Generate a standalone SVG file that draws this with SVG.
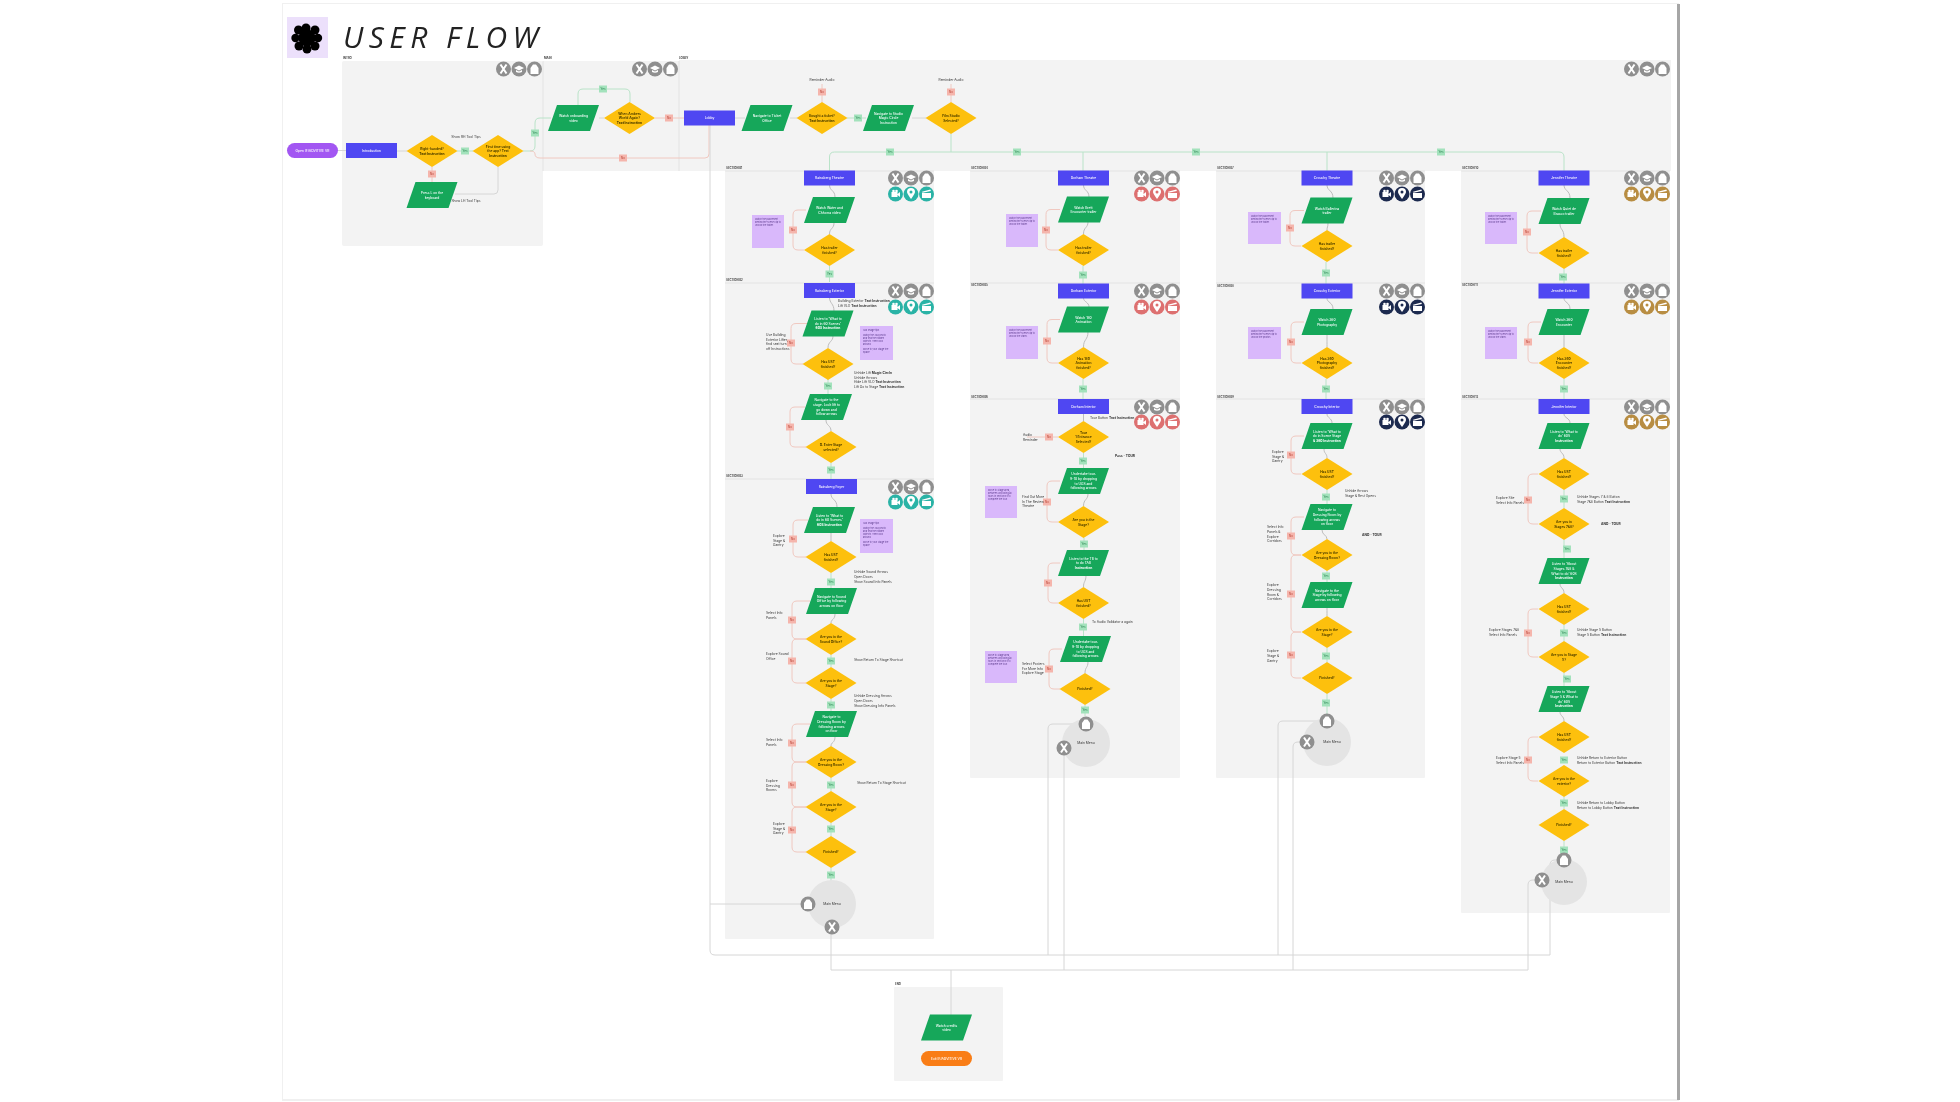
<svg xmlns="http://www.w3.org/2000/svg" width="1960" height="1102" viewBox="0 0 1960 1102">
<style>
text{font-family:Inter,"Noto Sans","Liberation Sans",sans-serif;font-size:3.3px}
.w{fill:#fff;text-anchor:middle;font-weight:500}
.k{fill:#3a2f00;text-anchor:middle;font-weight:600}
.b{font-weight:700}
.t{fill:#333}
.s{fill:#444;font-size:2.8px;font-weight:700}
.m{fill:#333;text-anchor:middle}
.nt{fill:#5b3a8c;font-size:2.3px}
.r{x:-25.5px;y:-7.5px;width:51px;height:15px;fill:#5046f2}
.f{fill:#f3f3f3}
.n{fill:#d9b8fb}
.d{fill:#fdc00c}
.p{fill:#12a75a}
.y{width:8px;height:7px;fill:#a3e2bc}
.o{width:8px;height:7px;fill:#f5b5ac}
.ly{fill:#1c7a45;text-anchor:middle;font-size:2.8px}
.lo{fill:#b3392b;text-anchor:middle;font-size:2.8px}
#connectors path{fill:none;stroke-width:1}
.g{stroke:#d6d6d6}
.gs{stroke:#bdbdbd}
.rd{stroke:#f0c8c0}
.gr{stroke:#b9e3c8}
.c{fill:#e4e4e4}
</style>
<defs>
<filter id="soft" filterUnits="userSpaceOnUse" x="0" y="0" width="1960" height="1102"><feGaussianBlur stdDeviation="0.55"/></filter>
<polygon id="dia" class="d" points="-25.5,0 0,-16 25.5,0 0,16"/>
<polygon id="par" class="p" points="-16.5,-13 25.5,-13 16.5,13 -25.5,13"/>
<g id="ix"><circle r="7.5"/><path d="M-3-4.5L3 4.5M3-4.5L-3 4.5" stroke="#fff" stroke-width="2" fill="none"/></g>
<g id="ic"><circle r="7.5"/><path d="M-5-1L0-3.5L5-1L0 1.5ZM-3 1V3Q0 4.5 3 3V1L0 2.5Z" fill="#fff"/></g>
<g id="ih"><circle r="7.5"/><path d="M-4-1L-1.5-4.500H1.500L4-1V5H-4Z" fill="#fff"/></g>
<g id="iv"><circle r="7.5"/><path d="M-4-2H2V3H-4ZM2 0L4.5-2V3L2 1Z" fill="#fff"/><circle cx="-2" cy="-3" r="1.3" fill="#fff"/><circle cx="1" cy="-3" r="1.3" fill="#fff"/></g>
<g id="ip"><circle r="7.5"/><path d="M0 5Q-4-.5-4-2A4 4 0 0 1 4-2Q4-.5 0 5Z" fill="#fff"/><circle cy="-2" r="1.5" fill="currentColor"/></g>
<g id="ia"><circle r="7.5"/><path d="M-4.5-1H4.5V4H-4.5ZM-4.5-2.2L3.8-4.5L4.4-3L-4-1.2Z" fill="#fff"/></g>
<g id="top"><use href="#ix" x="-15.5"/><use href="#ic"/><use href="#ih" x="15.5"/></g>
<g id="low"><use href="#iv" x="-15.5"/><use href="#ip"/><use href="#ia" x="15.5"/></g>
</defs>
<rect width="1960" height="1102" fill="#fff"/>
<g filter="url(#soft)">
<g id="page">
<rect x="282" y="3" width="1397" height="1098" fill="#f0f0f0"/>
<rect x="1677" y="4" width="3" height="1096" fill="#a6a6a6"/>
<rect x="283" y="4" width="1394" height="1095" fill="#fff"/>
</g>
<g id="title">
<rect x="287" y="17" width="41" height="41" fill="#ece0fb"/>
<g fill="#000"><circle cx="307" cy="38" r="8.500"/><circle cx="306" cy="28" r="4.500"/><circle cx="315" cy="30" r="4.500"/><circle cx="318" cy="38" r="4.200"/><circle cx="315" cy="46" r="4.500"/><circle cx="307" cy="49" r="4.500"/><circle cx="299" cy="46" r="4.500"/><circle cx="295.500" cy="38" r="4.200"/><circle cx="298.500" cy="30" r="4.500"/></g>
<text x="343" y="48" textLength="195" style="font-family:'Open Sans',sans-serif;font-size:30px;font-style:italic;font-weight:400" fill="#222">USER FLOW</text>
</g>
<g id="frames">
<rect class="f" x="342" y="61" width="201" height="185" rx="2"/>
<rect class="f" x="543" y="61" width="136" height="110"/>
<rect class="f" x="679" y="60" width="992" height="111"/>
<rect class="f" x="725" y="171" width="209" height="768" rx="1"/>
<rect class="f" x="970" y="171" width="210" height="607" rx="1"/>
<rect class="f" x="1216" y="171" width="209" height="607" rx="1"/>
<rect class="f" x="1461" y="171" width="209" height="742" rx="1"/>
<rect class="f" x="894" y="987" width="109" height="94" rx="1"/>
<path d="M725 171H934M725 283H934M725 479H934M970 171H1180M970 283H1180M970 399H1180M1216 171H1425M1216 283H1425M1216 399H1425M1461 171H1670M1461 283H1670M1461 399H1670M543 61V171M679 61V171" stroke="#e3e3e3" fill="none"/>
<text class="s" x="343" y="59">INTRO</text>
<text class="s" x="544" y="59">MAIN</text>
<text class="s" x="679" y="59">LOBBY</text>
<text class="s" x="726" y="169">SECTION 01</text><text class="s" x="726" y="281">SECTION 02</text><text class="s" x="726" y="477">SECTION 03</text>
<text class="s" x="971" y="169">SECTION 04</text><text class="s" x="971" y="286">SECTION 05</text><text class="s" x="971" y="398">SECTION 06</text>
<text class="s" x="1217" y="169">SECTION 07</text><text class="s" x="1217" y="287">SECTION 08</text><text class="s" x="1217" y="398">SECTION 09</text>
<text class="s" x="1462" y="169">SECTION 10</text><text class="s" x="1462" y="286">SECTION 11</text><text class="s" x="1462" y="398">SECTION 12</text>
<text class="s" x="895" y="985">END</text>
</g>
<g id="icons">
<g fill="#8f8f8f"><use href="#top" x="519" y="69"/><use href="#top" x="655" y="69"/><use href="#top" x="1647" y="69"/>
<use href="#top" x="911" y="178"/><use href="#top" x="911" y="291"/><use href="#top" x="911" y="487"/>
<use href="#top" x="1157" y="178"/><use href="#top" x="1157" y="291"/><use href="#top" x="1157" y="407"/>
<use href="#top" x="1402" y="178"/><use href="#top" x="1402" y="291"/><use href="#top" x="1402" y="407"/>
<use href="#top" x="1647" y="178"/><use href="#top" x="1647" y="291"/><use href="#top" x="1647" y="407"/></g>
<g fill="#2bb3a6" color="#2bb3a6"><use href="#low" x="911" y="194"/><use href="#low" x="911" y="307"/><use href="#low" x="911" y="502"/></g>
<g fill="#dd6f6f" color="#dd6f6f"><use href="#low" x="1157" y="194"/><use href="#low" x="1157" y="307"/><use href="#low" x="1157" y="422"/></g>
<g fill="#1e2a4f" color="#1e2a4f"><use href="#low" x="1402" y="194"/><use href="#low" x="1402" y="307"/><use href="#low" x="1402" y="422"/></g>
<g fill="#b88d42" color="#b88d42"><use href="#low" x="1647" y="194"/><use href="#low" x="1647" y="307"/><use href="#low" x="1647" y="422"/></g>
</g>
<g id="connectors">
<path class="g" d="M338 150.5H346M397 151H407M455 194H494Q498 194 498 190V167M599 118H604M735 118H745M790 118H797M912 118H926"/>
<path class="gr" d="M457 151H473M523 151H530Q535 151 535 146V123Q535 118 540 118H551M578 105V94Q578 89 583 89H625Q630 89 630 94V102M847 118H866M951 134V152M829.5 171V157Q829.5 152 834.5 152H1559Q1564 152 1564 157V171M1083 152V171M1327 152V171"/>
<path class="rd" d="M432 167V182M530 151Q535 151 535 154Q535 158 540 158H705Q709 158 709 154V125M655 118H684M822 102V84M951 102V84"/>
<path class="g" d="M710 125V950Q710 955 715 955H1550M808 904H710M831 927V970H1528M1528 970V885Q1528 880 1533 880H1542M1550 955V865Q1550 860 1555 860H1564M1086 724H1053Q1048 724 1048 729V955M1064 748V970M1327 721H1283Q1278 721 1278 726V955M1307 742H1298Q1293 742 1293 747V970M951 970V1015"/>
<path class="gs" d="M829.5 185C829.5 191 835 190 835 197M834 223C834 229 829.5 228 829.5 234M829.5 297C829.5 304 834 303 834 311M833 336C833 342 828 341 828 348M826 420C826 426 831 425 831 431M831 494C831 500 837 499 837 507M831 533C831 538 831 538 831 541M835 614C835 620 831 619 831 623M835 737C835 743 831 742 831 746"/>
<path class="gs" d="M1083.5 185C1083.5 191 1089 190 1089 197M1088 222C1088 228 1083.5 227 1083.5 234M1083.5 298C1083.5 302 1089 302 1089 307M1088 332C1088 340 1083.5 339 1083.5 347M1083.5 414V421M1088 494C1088 500 1083.5 499 1083.5 506M1086 575C1086 582 1083.5 581 1083.5 587M1088 662C1088 668 1085 667 1085 673"/>
<path class="gs" d="M1327 185C1327 191 1333 190 1333 198M1328 223C1328 227 1327 227 1327 230M1327 298C1327 303 1333 302 1333 309M1327 335C1327 340 1327 340 1327 347M1327 414C1327 418 1332 418 1332 423M1324 449C1324 454 1327 453 1327 458M1322 530C1322 535 1327 535 1327 539M1327 608C1327 612 1327 612 1327 616"/>
<path class="gs" d="M1564 185C1564 191 1570 190 1570 198M1560 224C1560 230 1564 229 1564 237M1564 298C1564 303 1570 302 1570 309M1564 335V347M1564 414C1564 418 1570 418 1570 423M1560 449C1560 453 1564 453 1564 458M1560 584C1560 588 1564 588 1564 593M1560 712C1560 716 1564 716 1564 721"/>
<path class="gr" d="M829.5 266V282M828 379V394M831 463V479M831 573V588M831 655V667M831 699V711M831 778V791M831 823V836M831 868V885M1083 266V284M1083 379V399M1083.5 453V468M1084 538V550M1083.5 619V636M1085 705V716M1326 262V284M1326 379V399M1327 490V504M1327 571V582M1327 648V662M1327 694V722M1564 269V284M1564 379V399M1564 490V508M1564 540V558M1564 625V641M1564 673V686M1564 797V809M1564 841V860"/>
<path class="rd" d="M806 210H798Q793 210 793 215V245Q793 250 798 250H804M808 323.5H796Q791 323.5 791 328.500V359Q791 364 796 364H803M805 407H795Q790 407 790 412V442Q790 447 795 447H806M808 520H798Q793 520 793 525V552Q793 557 798 557H806M810 601H797Q792 601 792 606V634Q792 639 797 639H806M806 639H797Q792 639 792 644V678Q792 683 797 683H806M810 724H797Q792 724 792 729V757Q792 762 797 762H806M806 762H797Q792 762 792 767V802Q792 807 797 807H806M806 807H797Q792 807 792 812V847Q792 852 797 852H806"/>
<path class="rd" d="M1060 209.500H1051Q1046 209.500 1046 214.500V245Q1046 250 1051 250H1058M1060 319.500H1052Q1047 319.500 1047 324.500V358Q1047 363 1052 363H1058M1058 437H1027M1060 481H1052Q1047 481 1047 486V517Q1047 522 1052 522H1058M1060 563H1053Q1048 563 1048 568V598Q1048 603 1053 603H1058M1062 649H1054Q1049 649 1049 654V684Q1049 689 1054 689H1060"/>
<path class="rd" d="M1304 210.500H1295Q1290 210.500 1290 215.500V241Q1290 246 1295 246H1301M1304 322H1296Q1291 322 1291 327V358Q1291 363 1296 363H1301M1304 436H1296Q1291 436 1291 441V469Q1291 474 1296 474H1301M1304 517H1296Q1291 517 1291 522V550Q1291 555 1296 555H1301M1301 555H1296Q1291 555 1291 560V627Q1291 632 1296 632H1301M1301 632H1296Q1291 632 1291 637V673Q1291 678 1296 678H1301"/>
<path class="rd" d="M1541 211H1532Q1527 211 1527 216V248Q1527 253 1532 253H1538M1541 322H1533Q1528 322 1528 327V358Q1528 363 1533 363H1538M1538 474H1533Q1528 474 1528 479V519Q1528 524 1533 524H1538M1538 609H1533Q1528 609 1528 614V652Q1528 657 1533 657H1538M1538 737H1533Q1528 737 1528 742V776Q1528 781 1533 781H1538"/>
<rect class="y" x="461" y="147.500"/><text class="ly" x="465" y="152">Yes</text>
<rect class="o" x="428" y="170.500"/><text class="lo" x="432" y="175">No</text>
<rect class="y" x="531" y="129.500"/><text class="ly" x="535" y="134">Yes</text>
<rect class="y" x="599" y="85.500"/><text class="ly" x="603" y="90">Yes</text>
<rect class="o" x="665" y="114.500"/><text class="lo" x="669" y="119">No</text>
<rect class="o" x="619" y="154.500"/><text class="lo" x="623" y="159">No</text>
<rect class="o" x="818" y="88.500"/><text class="lo" x="822" y="93">No</text>
<rect class="y" x="854" y="114.500"/><text class="ly" x="858" y="119">Yes</text>
<rect class="o" x="947" y="88.500"/><text class="lo" x="951" y="93">No</text>
<rect class="y" x="886" y="148.500"/><text class="ly" x="890" y="153">Yes</text>
<rect class="y" x="1013" y="148.500"/><text class="ly" x="1017" y="153">Yes</text>
<rect class="y" x="1192" y="148.500"/><text class="ly" x="1196" y="153">Yes</text>
<rect class="y" x="1437" y="148.500"/><text class="ly" x="1441" y="153">Yes</text>
<rect class="o" x="789" y="226.500"/><text class="lo" x="793" y="231">No</text>
<rect class="y" x="825.500" y="270.500"/><text class="ly" x="829.500" y="275">Yes</text>
<rect class="o" x="787" y="339.500"/><text class="lo" x="791" y="344">No</text>
<rect class="y" x="824" y="382.500"/><text class="ly" x="828" y="387">Yes</text>
<rect class="o" x="786" y="423.500"/><text class="lo" x="790" y="428">No</text>
<rect class="y" x="827" y="466.500"/><text class="ly" x="831" y="471">Yes</text>
<rect class="o" x="789" y="535.500"/><text class="lo" x="793" y="540">No</text>
<rect class="y" x="827" y="578.500"/><text class="ly" x="831" y="583">Yes</text>
<rect class="o" x="788" y="616.500"/><text class="lo" x="792" y="621">No</text>
<rect class="o" x="788" y="657.500"/><text class="lo" x="792" y="662">No</text>
<rect class="y" x="827" y="657.500"/><text class="ly" x="831" y="662">Yes</text>
<rect class="y" x="827" y="701.500"/><text class="ly" x="831" y="706">Yes</text>
<rect class="o" x="788" y="739.500"/><text class="lo" x="792" y="744">No</text>
<rect class="o" x="788" y="781.500"/><text class="lo" x="792" y="786">No</text>
<rect class="y" x="827" y="781.500"/><text class="ly" x="831" y="786">Yes</text>
<rect class="y" x="827" y="825.500"/><text class="ly" x="831" y="830">Yes</text>
<rect class="o" x="788" y="826.500"/><text class="lo" x="792" y="831">No</text>
<rect class="y" x="827" y="871.500"/><text class="ly" x="831" y="876">Yes</text>
<rect class="o" x="1042" y="226.500"/><text class="lo" x="1046" y="231">No</text>
<rect class="y" x="1079" y="271.500"/><text class="ly" x="1083" y="276">Yes</text>
<rect class="o" x="1043" y="337.500"/><text class="lo" x="1047" y="342">No</text>
<rect class="y" x="1079" y="385.500"/><text class="ly" x="1083" y="390">Yes</text>
<rect class="o" x="1045" y="433.500"/><text class="lo" x="1049" y="438">No</text>
<rect class="y" x="1079" y="457.500"/><text class="ly" x="1083" y="462">Yes</text>
<rect class="o" x="1043" y="498.500"/><text class="lo" x="1047" y="503">No</text>
<rect class="y" x="1080" y="540.500"/><text class="ly" x="1084" y="545">Yes</text>
<rect class="o" x="1044" y="579.500"/><text class="lo" x="1048" y="584">No</text>
<rect class="y" x="1079" y="623.500"/><text class="ly" x="1083" y="628">Yes</text>
<rect class="o" x="1045" y="665.500"/><text class="lo" x="1049" y="670">No</text>
<rect class="y" x="1081" y="706.500"/><text class="ly" x="1085" y="711">Yes</text>
<rect class="o" x="1286" y="224.500"/><text class="lo" x="1290" y="229">No</text>
<rect class="y" x="1322" y="269.500"/><text class="ly" x="1326" y="274">Yes</text>
<rect class="o" x="1287" y="338.500"/><text class="lo" x="1291" y="343">No</text>
<rect class="y" x="1322" y="385.500"/><text class="ly" x="1326" y="390">Yes</text>
<rect class="o" x="1287" y="451.500"/><text class="lo" x="1291" y="456">No</text>
<rect class="y" x="1322" y="493.500"/><text class="ly" x="1326" y="498">Yes</text>
<rect class="o" x="1287" y="532.500"/><text class="lo" x="1291" y="537">No</text>
<rect class="y" x="1322" y="572.500"/><text class="ly" x="1326" y="577">Yes</text>
<rect class="o" x="1287" y="590.500"/><text class="lo" x="1291" y="595">No</text>
<rect class="y" x="1322" y="652.500"/><text class="ly" x="1326" y="657">Yes</text>
<rect class="o" x="1287" y="651.500"/><text class="lo" x="1291" y="656">No</text>
<rect class="y" x="1322" y="699.500"/><text class="ly" x="1326" y="704">Yes</text>
<rect class="o" x="1523" y="228.500"/><text class="lo" x="1527" y="233">No</text>
<rect class="y" x="1559" y="273.500"/><text class="ly" x="1563" y="278">Yes</text>
<rect class="o" x="1524" y="338.500"/><text class="lo" x="1528" y="343">No</text>
<rect class="y" x="1560" y="385.500"/><text class="ly" x="1564" y="390">Yes</text>
<rect class="y" x="1560" y="495.500"/><text class="ly" x="1564" y="500">Yes</text>
<rect class="o" x="1524" y="496.500"/><text class="lo" x="1528" y="501">No</text>
<rect class="y" x="1563" y="545.500"/><text class="ly" x="1567" y="550">Yes</text>
<rect class="o" x="1524" y="629.500"/><text class="lo" x="1528" y="634">No</text>
<rect class="y" x="1560" y="629.500"/><text class="ly" x="1564" y="634">Yes</text>
<rect class="y" x="1563" y="675.500"/><text class="ly" x="1567" y="680">Yes</text>
<rect class="o" x="1524" y="756.500"/><text class="lo" x="1528" y="761">No</text>
<rect class="y" x="1560" y="756.500"/><text class="ly" x="1564" y="761">Yes</text>
<rect class="y" x="1560" y="799.500"/><text class="ly" x="1564" y="804">Yes</text>
<rect class="y" x="1560" y="846.500"/><text class="ly" x="1564" y="851">Yes</text>
</g>
<g id="n-open"><rect x="287" y="143" width="51" height="15" rx="7.5" fill="#a257f2"/><text class="w" x="312.500" y="151.700">Open IF/ADVITIVE VR</text></g>
<g id="n-intro" transform="translate(371.500 150.500)"><rect class="r"/><text class="w" y="1.200">Introduction</text></g>
<g id="n-hand" transform="translate(432 151)"><use href="#dia"/><text class="k" y="-1"><tspan x="0">Right-handed?</tspan><tspan x="0" dy="4.700" class="b">Text Instruction</tspan></text></g>
<g id="n-first" transform="translate(498 151)"><use href="#dia"/><text class="k" y="-3.500"><tspan x="0">First time using</tspan><tspan x="0" dy="4.700">the app? Text</tspan><tspan x="0" dy="4.700" class="b">Instruction</tspan></text></g>
<g id="n-press" transform="translate(432 195)"><use href="#par"/><text class="w" y="-1"><tspan x="0">Press L on the</tspan><tspan x="0" dy="4.700">keyboard</tspan></text></g>
<text class="m" x="466" y="138">Show RH Tool Tips</text><text class="m" x="466" y="201.500">Show LH Tool Tips</text>
<g id="n-onb" transform="translate(573.500 118)"><use href="#par"/><text class="w" y="-1"><tspan x="0">Watch onboarding</tspan><tspan x="0" dy="4.700">video</tspan></text></g>
<g id="n-when" transform="translate(629.500 118)"><use href="#dia"/><text class="k" y="-3.500"><tspan x="0">When Ambers</tspan><tspan x="0" dy="4.700">World Again?</tspan><tspan x="0" dy="4.700" class="b">Text Instruction</tspan></text></g>
<g id="n-lobby" transform="translate(709.500 118)"><rect class="r"/><text class="w" y="1.200">Lobby</text></g>
<g id="n-ticket" transform="translate(767 118)"><use href="#par"/><text class="w" y="-1"><tspan x="0">Navigate to Ticket</tspan><tspan x="0" dy="4.700">Office</tspan></text></g>
<g id="n-bought" transform="translate(822 118)"><use href="#dia"/><text class="k" y="-1"><tspan x="0">Bought a ticket?</tspan><tspan x="0" dy="4.700" class="b">Text Instruction</tspan></text></g>
<g id="n-nav" transform="translate(888.500 118)"><use href="#par"/><text class="w" y="-3.500"><tspan x="0">Navigate to Studio</tspan><tspan x="0" dy="4.700">Magic Circle</tspan><tspan x="0" dy="4.700">Instruction</tspan></text></g>
<g id="n-film" transform="translate(951 118)"><use href="#dia"/><text class="k" y="-1"><tspan x="0">Film Studio</tspan><tspan x="0" dy="4.700">Selected?</tspan></text></g>
<text class="m" x="822" y="81">Reminder Audio</text><text class="m" x="951" y="81">Reminder Audio</text>

<g id="a1" transform="translate(829.500 178)"><rect class="r"/><text class="w" y="1.200">Rainsberg Theatre</text></g>
<g id="a2" transform="translate(829.500 210)"><use href="#par"/><text class="w" y="-1"><tspan x="0">Watch Water and</tspan><tspan x="0" dy="4.700">Chhorra video</tspan></text></g>
<g id="a3" transform="translate(829.500 250)"><use href="#dia"/><text class="k" y="-1"><tspan x="0">Has trailer</tspan><tspan x="0" dy="4.700">finished?</tspan></text></g>
<g id="a-n1"><rect class="n" x="752" y="215" width="32" height="33"/><text class="nt" x="755" y="220"><tspan x="755">Watch the placement</tspan><tspan x="755" dy="3">behind the scene clip to</tspan><tspan x="755" dy="3">unlock the trailer.</tspan></text></g>
<g id="a4" transform="translate(829.500 290.500)"><rect class="r"/><text class="w" y="1.200">Rainsberg Exterior</text></g>
<text class="t" x="838" y="302">Building Exterior <tspan class="b">Text Instruction</tspan><tspan x="838" dy="4.700">Lift VLO </tspan><tspan class="b">Text Instruction</tspan></text>
<g id="a5" transform="translate(828 323.500)"><use href="#par"/><text class="w" y="-3.500"><tspan x="0">Listen to 'What to</tspan><tspan x="0" dy="4.700">do in 60 Scenes'</tspan><tspan x="0" dy="4.700" class="b">60S Instruction</tspan></text></g>
<g id="a6" transform="translate(828 364)"><use href="#dia"/><text class="k" y="-1"><tspan x="0">Has UST</tspan><tspan x="0" dy="4.700">finished?</tspan></text></g>
<text class="t" x="766" y="336"><tspan x="766">Use Building</tspan><tspan x="766" dy="4.700">Exterior Lifter,</tspan><tspan x="766" dy="4.700">find seat turn</tspan><tspan x="766" dy="4.700">off Instructions</tspan></text>
<g id="a-n2"><rect class="n" x="860" y="326" width="33" height="34"/><text class="nt" x="863" y="330.500"><tspan x="863">360 Image tips</tspan><tspan x="863" dy="5">Watch the 360 photo</tspan><tspan x="863" dy="3">and find the hidden</tspan><tspan x="863" dy="3">objects. Then look</tspan><tspan x="863" dy="3">around.</tspan><tspan x="863" dy="5">Move to your Stage the</tspan><tspan x="863" dy="3">space.</tspan></text></g>
<text class="t" x="854" y="374"><tspan x="854">Unhide Lift </tspan><tspan class="b">Magic Circle</tspan><tspan x="854" dy="4.700">Unhide Arrows</tspan><tspan x="854" dy="4.700">Hide Lift VLO </tspan><tspan class="b">Text Instruction</tspan><tspan x="854" dy="4.700">Lift Go to Stage </tspan><tspan class="b">Text Instruction</tspan></text>
<g id="a7" transform="translate(826.500 407)"><use href="#par"/><text class="w" y="-5.800"><tspan x="0">Navigate to the</tspan><tspan x="0" dy="4.700">stage. Lock lift to</tspan><tspan x="0" dy="4.700">go down and</tspan><tspan x="0" dy="4.700">follow arrows</tspan></text></g>
<g id="a8" transform="translate(831 447)"><use href="#dia"/><text class="k" y="-1"><tspan x="0">D. Enter Stage</tspan><tspan x="0" dy="4.700">selected?</tspan></text></g>
<g id="a9" transform="translate(831.500 486.500)"><rect class="r"/><text class="w" y="1.200">Rainsberg Foyer</text></g>
<g id="a10" transform="translate(829.500 520)"><use href="#par"/><text class="w" y="-3.500"><tspan x="0">Listen to 'What to</tspan><tspan x="0" dy="4.700">do in 60 Scenes'</tspan><tspan x="0" dy="4.700" class="b">60S Instruction</tspan></text></g>
<g id="a11" transform="translate(831 557)"><use href="#dia"/><text class="k" y="-1"><tspan x="0">Has UST</tspan><tspan x="0" dy="4.700">finished?</tspan></text></g>
<text class="t" x="773" y="537"><tspan x="773">Explore</tspan><tspan x="773" dy="4.700">Stage &amp;</tspan><tspan x="773" dy="4.700">Gantry</tspan></text>
<g id="a-n3"><rect class="n" x="860" y="519" width="33" height="34"/><text class="nt" x="863" y="523.500"><tspan x="863">360 Image tips</tspan><tspan x="863" dy="5">Watch the 360 photo</tspan><tspan x="863" dy="3">and find the hidden</tspan><tspan x="863" dy="3">objects. Then look</tspan><tspan x="863" dy="3">around.</tspan><tspan x="863" dy="5">Move to your Stage the</tspan><tspan x="863" dy="3">space.</tspan></text></g>
<text class="t" x="854" y="573"><tspan x="854">Unhide Sound Arrows</tspan><tspan x="854" dy="4.800">Open Doors</tspan><tspan x="854" dy="4.800">Show Sound Info Panels</tspan></text>
<g id="a12" transform="translate(831.500 601)"><use href="#par"/><text class="w" y="-3.500"><tspan x="0">Navigate to Sound</tspan><tspan x="0" dy="4.700">Office by following</tspan><tspan x="0" dy="4.700">arrows on floor</tspan></text></g>
<g id="a13" transform="translate(831 639)"><use href="#dia"/><text class="k" y="-1"><tspan x="0">Are you in the</tspan><tspan x="0" dy="4.700">Sound Office?</tspan></text></g>
<text class="t" x="766" y="614"><tspan x="766">Select Info</tspan><tspan x="766" dy="4.700">Panels</tspan></text>
<text class="t" x="766" y="655"><tspan x="766">Explore Sound</tspan><tspan x="766" dy="4.700">Office</tspan></text>
<text class="t" x="854" y="661">Show Return To Stage Shortcut</text>
<g id="a14" transform="translate(831 683)"><use href="#dia"/><text class="k" y="-1"><tspan x="0">Are you in the</tspan><tspan x="0" dy="4.700">Stage?</tspan></text></g>
<text class="t" x="854" y="697"><tspan x="854">Unhide Dressing Arrows</tspan><tspan x="854" dy="4.800">Open Doors</tspan><tspan x="854" dy="4.800">Show Dressing Info Panels</tspan></text>
<g id="a15" transform="translate(831.500 724)"><use href="#par"/><text class="w" y="-5.800"><tspan x="0">Navigate to</tspan><tspan x="0" dy="4.700">Dressing Room by</tspan><tspan x="0" dy="4.700">following arrows</tspan><tspan x="0" dy="4.700">on floor</tspan></text></g>
<g id="a16" transform="translate(831 762)"><use href="#dia"/><text class="k" y="-1"><tspan x="0">Are you in the</tspan><tspan x="0" dy="4.700">Dressing Room?</tspan></text></g>
<text class="t" x="766" y="741"><tspan x="766">Select Info</tspan><tspan x="766" dy="4.700">Panels</tspan></text>
<text class="t" x="766" y="782"><tspan x="766">Explore</tspan><tspan x="766" dy="4.700">Dressing</tspan><tspan x="766" dy="4.700">Rooms</tspan></text>
<text class="t" x="857" y="784">Show Return To Stage Shortcut</text>
<g id="a17" transform="translate(831 807)"><use href="#dia"/><text class="k" y="-1"><tspan x="0">Are you in the</tspan><tspan x="0" dy="4.700">Stage?</tspan></text></g>
<text class="t" x="773" y="825"><tspan x="773">Explore</tspan><tspan x="773" dy="4.700">Stage &amp;</tspan><tspan x="773" dy="4.700">Gantry</tspan></text>
<g id="a18" transform="translate(831 852)"><use href="#dia"/><text class="k" y="1.200">Finished?</text></g>
<g id="a19"><circle class="c" cx="832" cy="904" r="24"/><text class="m" x="832" y="905">Main Menu</text><g fill="#8f8f8f"><use href="#ih" x="808" y="904"/><use href="#ix" x="832" y="927"/></g></g>

<g id="b1" transform="translate(1083.500 178)"><rect class="r"/><text class="w" y="1.200">Dorham Theatre</text></g>
<g id="b2" transform="translate(1083.500 209.500)"><use href="#par"/><text class="w" y="-1"><tspan x="0">Watch Brett</tspan><tspan x="0" dy="4.700">Encounter trailer</tspan></text></g>
<g id="b3" transform="translate(1083.500 250)"><use href="#dia"/><text class="k" y="-1"><tspan x="0">Has trailer</tspan><tspan x="0" dy="4.700">finished?</tspan></text></g>
<g id="b-n1"><rect class="n" x="1006" y="214" width="32" height="33"/><text class="nt" x="1009" y="219"><tspan x="1009">Watch the placement</tspan><tspan x="1009" dy="3">behind the scene clip to</tspan><tspan x="1009" dy="3">unlock the trailer.</tspan></text></g>
<g id="b4" transform="translate(1083.500 291)"><rect class="r"/><text class="w" y="1.200">Dorham Exterior</text></g>
<g id="b5" transform="translate(1083.500 319.500)"><use href="#par"/><text class="w" y="-1"><tspan x="0">Watch 180</tspan><tspan x="0" dy="4.700">Animation</tspan></text></g>
<g id="b6" transform="translate(1083.500 363)"><use href="#dia"/><text class="k" y="-3.500"><tspan x="0">Has 180</tspan><tspan x="0" dy="4.700">Animation</tspan><tspan x="0" dy="4.700">finished?</tspan></text></g>
<g id="b-n2"><rect class="n" x="1006" y="326" width="32" height="33"/><text class="nt" x="1009" y="331"><tspan x="1009">Watch the placement</tspan><tspan x="1009" dy="3">behind the scene clip to</tspan><tspan x="1009" dy="3">unlock the video.</tspan></text></g>
<g id="b7" transform="translate(1083.500 406.500)"><rect class="r"/><text class="w" y="1.200">Dorham Interior</text></g>
<text class="t" x="1090" y="419">Tour Button <tspan class="b">Text Instruction</tspan></text>
<g id="b8" transform="translate(1083.500 437)"><use href="#dia"/><text class="k" y="-3.500"><tspan x="0">Tour</tspan><tspan x="0" dy="4.700">1 Entrance</tspan><tspan x="0" dy="4.700">Selected?</tspan></text></g>
<text class="t" x="1023" y="436"><tspan x="1023">Audio</tspan><tspan x="1023" dy="4.700">Reminder</tspan></text>
<text class="t b" x="1115" y="457">Pass - TOUR</text>
<g id="b9" transform="translate(1083.500 481)"><use href="#par"/><text class="w" y="-5.800"><tspan x="0">Undertake tour.</tspan><tspan x="0" dy="4.700">9-10 by dropping</tspan><tspan x="0" dy="4.700">to UGS and</tspan><tspan x="0" dy="4.700">following arrows</tspan></text></g>
<g id="b-n3"><rect class="n" x="985" y="486" width="32" height="32"/><text class="nt" x="988" y="491"><tspan x="988">Move to Stage area,</tspan><tspan x="988" dy="3">between unlocking all</tspan><tspan x="988" dy="3">tours in sections 9 to</tspan><tspan x="988" dy="3">complete the tour.</tspan></text></g>
<text class="t" x="1022" y="498"><tspan x="1022">Find Out More</tspan><tspan x="1022" dy="4.700">In The Review</tspan><tspan x="1022" dy="4.700">Theatre</tspan></text>
<g id="b10" transform="translate(1083.500 522)"><use href="#dia"/><text class="k" y="-1"><tspan x="0">Are you in the</tspan><tspan x="0" dy="4.700">Stage?</tspan></text></g>
<g id="b11" transform="translate(1083.500 563)"><use href="#par"/><text class="w" y="-3.500"><tspan x="0">Listen to the TB to</tspan><tspan x="0" dy="4.700">to do TAB</tspan><tspan x="0" dy="4.700" class="b">Instruction</tspan></text></g>
<g id="b12" transform="translate(1083.500 603)"><use href="#dia"/><text class="k" y="-1"><tspan x="0">Has UST</tspan><tspan x="0" dy="4.700">finished?</tspan></text></g>
<text class="t" x="1092" y="623">To Audio Validator a again</text>
<g id="b13" transform="translate(1085.500 649)"><use href="#par"/><text class="w" y="-5.800"><tspan x="0">Undertake tour.</tspan><tspan x="0" dy="4.700">9-10 by dropping</tspan><tspan x="0" dy="4.700">to UGS and</tspan><tspan x="0" dy="4.700">following arrows</tspan></text></g>
<g id="b-n4"><rect class="n" x="985" y="651" width="32" height="32"/><text class="nt" x="988" y="656"><tspan x="988">Move to Stage area,</tspan><tspan x="988" dy="3">between unlocking all</tspan><tspan x="988" dy="3">tours in sections 9 to</tspan><tspan x="988" dy="3">complete the tour.</tspan></text></g>
<text class="t" x="1022" y="665"><tspan x="1022">Select Posters</tspan><tspan x="1022" dy="4.700">For More Info</tspan><tspan x="1022" dy="4.700">Explore Stage</tspan></text>
<g id="b14" transform="translate(1085 689)"><use href="#dia"/><text class="k" y="1.200">Finished?</text></g>
<g id="b15"><circle class="c" cx="1086" cy="743" r="24"/><text class="m" x="1086" y="744">Main Menu</text><g fill="#8f8f8f"><use href="#ih" x="1086" y="724"/><use href="#ix" x="1064" y="748"/></g></g>

<g id="c1" transform="translate(1327 178)"><rect class="r"/><text class="w" y="1.200">Crouchy Theatre</text></g>
<g id="c2" transform="translate(1327 210.500)"><use href="#par"/><text class="w" y="-1"><tspan x="0">Watch Ballerina</tspan><tspan x="0" dy="4.700">trailer</tspan></text></g>
<g id="c3" transform="translate(1327 246)"><use href="#dia"/><text class="k" y="-1"><tspan x="0">Has trailer</tspan><tspan x="0" dy="4.700">finished?</tspan></text></g>
<g id="c-n1"><rect class="n" x="1248" y="212" width="33" height="32"/><text class="nt" x="1251" y="217"><tspan x="1251">Watch the placement</tspan><tspan x="1251" dy="3">behind the scene clip to</tspan><tspan x="1251" dy="3">unlock the trailer.</tspan></text></g>
<g id="c4" transform="translate(1327 291)"><rect class="r"/><text class="w" y="1.200">Crouchy Exterior</text></g>
<g id="c5" transform="translate(1327 322)"><use href="#par"/><text class="w" y="-1"><tspan x="0">Watch 360</tspan><tspan x="0" dy="4.700">Photography</tspan></text></g>
<g id="c6" transform="translate(1327 363)"><use href="#dia"/><text class="k" y="-3.500"><tspan x="0">Has 360</tspan><tspan x="0" dy="4.700">Photography</tspan><tspan x="0" dy="4.700">finished?</tspan></text></g>
<g id="c-n2"><rect class="n" x="1248" y="327" width="33" height="32"/><text class="nt" x="1251" y="332"><tspan x="1251">Watch the placement</tspan><tspan x="1251" dy="3">behind the scene clip to</tspan><tspan x="1251" dy="3">unlock the photos.</tspan></text></g>
<g id="c7" transform="translate(1327 406.500)"><rect class="r"/><text class="w" y="1.200">Crouchy Interior</text></g>
<g id="c8" transform="translate(1327 436)"><use href="#par"/><text class="w" y="-3.500"><tspan x="0">Listen to 'What to</tspan><tspan x="0" dy="4.700">do in Scene Stage</tspan><tspan x="0" dy="4.700" class="b">&amp; 360 Instruction</tspan></text></g>
<text class="t" x="1272" y="453"><tspan x="1272">Explore</tspan><tspan x="1272" dy="4.700">Stage &amp;</tspan><tspan x="1272" dy="4.700">Gantry</tspan></text>
<g id="c9" transform="translate(1327 474)"><use href="#dia"/><text class="k" y="-1"><tspan x="0">Has UST</tspan><tspan x="0" dy="4.700">finished?</tspan></text></g>
<text class="t" x="1345" y="492"><tspan x="1345">Unhide Arrows</tspan><tspan x="1345" dy="4.700">Stage &amp; Rest Opens</tspan></text>
<g id="c10" transform="translate(1327 517)"><use href="#par"/><text class="w" y="-5.800"><tspan x="0">Navigate to</tspan><tspan x="0" dy="4.700">Dressing Room by</tspan><tspan x="0" dy="4.700">following arrows</tspan><tspan x="0" dy="4.700">on floor</tspan></text></g>
<text class="t" x="1267" y="528"><tspan x="1267">Select Info</tspan><tspan x="1267" dy="4.800">Panels &amp;</tspan><tspan x="1267" dy="4.800">Explore</tspan><tspan x="1267" dy="4.800">Corridors</tspan></text>
<text class="t b" x="1362" y="536">AND - TOUR</text>
<g id="c11" transform="translate(1327 555)"><use href="#dia"/><text class="k" y="-1"><tspan x="0">Are you in the</tspan><tspan x="0" dy="4.700">Dressing Room?</tspan></text></g>
<g id="c12" transform="translate(1327 595)"><use href="#par"/><text class="w" y="-3.500"><tspan x="0">Navigate to the</tspan><tspan x="0" dy="4.700">Stage by following</tspan><tspan x="0" dy="4.700">arrows on floor</tspan></text></g>
<text class="t" x="1267" y="586"><tspan x="1267">Explore</tspan><tspan x="1267" dy="4.800">Dressing</tspan><tspan x="1267" dy="4.800">Room &amp;</tspan><tspan x="1267" dy="4.800">Corridors</tspan></text>
<g id="c13" transform="translate(1327 632)"><use href="#dia"/><text class="k" y="-1"><tspan x="0">Are you in the</tspan><tspan x="0" dy="4.700">Stage?</tspan></text></g>
<text class="t" x="1267" y="652"><tspan x="1267">Explore</tspan><tspan x="1267" dy="4.800">Stage &amp;</tspan><tspan x="1267" dy="4.800">Gantry</tspan></text>
<g id="c14" transform="translate(1327 678)"><use href="#dia"/><text class="k" y="1.200">Finished?</text></g>
<g id="c15"><circle class="c" cx="1327" cy="742" r="24"/><text class="m" x="1332" y="743">Main Menu</text><g fill="#8f8f8f"><use href="#ih" x="1327" y="721"/><use href="#ix" x="1307" y="742"/></g></g>

<g id="d1" transform="translate(1564 178)"><rect class="r"/><text class="w" y="1.200">Jennifer Theatre</text></g>
<g id="d2" transform="translate(1564 211)"><use href="#par"/><text class="w" y="-1"><tspan x="0">Watch Quiet de</tspan><tspan x="0" dy="4.700">Brasco trailer</tspan></text></g>
<g id="d3" transform="translate(1564 253)"><use href="#dia"/><text class="k" y="-1"><tspan x="0">Has trailer</tspan><tspan x="0" dy="4.700">finished?</tspan></text></g>
<g id="d-n1"><rect class="n" x="1485" y="212" width="32" height="32"/><text class="nt" x="1488" y="217"><tspan x="1488">Watch the placement</tspan><tspan x="1488" dy="3">behind the scene clip to</tspan><tspan x="1488" dy="3">unlock the trailer.</tspan></text></g>
<g id="d4" transform="translate(1564 291)"><rect class="r"/><text class="w" y="1.200">Jennifer Exterior</text></g>
<g id="d5" transform="translate(1564 322)"><use href="#par"/><text class="w" y="-1"><tspan x="0">Watch 360</tspan><tspan x="0" dy="4.700">Encounter</tspan></text></g>
<g id="d6" transform="translate(1564 363)"><use href="#dia"/><text class="k" y="-3.500"><tspan x="0">Has 360</tspan><tspan x="0" dy="4.700">Encounter</tspan><tspan x="0" dy="4.700">finished?</tspan></text></g>
<g id="d-n2"><rect class="n" x="1485" y="327" width="32" height="32"/><text class="nt" x="1488" y="332"><tspan x="1488">Watch the placement</tspan><tspan x="1488" dy="3">behind the scene clip to</tspan><tspan x="1488" dy="3">unlock the video.</tspan></text></g>
<g id="d7" transform="translate(1564 406.500)"><rect class="r"/><text class="w" y="1.200">Jennifer Interior</text></g>
<g id="d8" transform="translate(1564 436)"><use href="#par"/><text class="w" y="-3.500"><tspan x="0">Listen to 'What to</tspan><tspan x="0" dy="4.700">do' 60S</tspan><tspan x="0" dy="4.700" class="b">Instruction</tspan></text></g>
<g id="d9" transform="translate(1564 474)"><use href="#dia"/><text class="k" y="-1"><tspan x="0">Has UST</tspan><tspan x="0" dy="4.700">finished?</tspan></text></g>
<text class="t" x="1496" y="499"><tspan x="1496">Explore Site</tspan><tspan x="1496" dy="4.700">Select Info Panels</tspan></text>
<text class="t" x="1577" y="498"><tspan x="1577">Unhide Stages 7 &amp; 8 Button</tspan><tspan x="1577" dy="4.700">Stage 7&amp;8 Button </tspan><tspan class="b">Text Instruction</tspan></text>
<g id="d10" transform="translate(1564 524)"><use href="#dia"/><text class="k" y="-1"><tspan x="0">Are you in</tspan><tspan x="0" dy="4.700">Stages 7&amp;8?</tspan></text></g>
<text class="t b" x="1601" y="525">AND - TOUR</text>
<g id="d11" transform="translate(1564 571)"><use href="#par"/><text class="w" y="-5.800"><tspan x="0">Listen to 'About</tspan><tspan x="0" dy="4.700">Stages 7&amp;8 &amp;</tspan><tspan x="0" dy="4.700">What to do' 60S</tspan><tspan x="0" dy="4.700" class="b">Instruction</tspan></text></g>
<g id="d12" transform="translate(1564 609)"><use href="#dia"/><text class="k" y="-1"><tspan x="0">Has UST</tspan><tspan x="0" dy="4.700">finished?</tspan></text></g>
<text class="t" x="1489" y="631"><tspan x="1489">Explore Stages 7&amp;8</tspan><tspan x="1489" dy="4.700">Select Info Panels</tspan></text>
<text class="t" x="1577" y="631"><tspan x="1577">Unhide Stage 5 Button</tspan><tspan x="1577" dy="4.700">Stage 5 Button </tspan><tspan class="b">Text Instruction</tspan></text>
<g id="d13" transform="translate(1564 657)"><use href="#dia"/><text class="k" y="-1"><tspan x="0">Are you in Stage</tspan><tspan x="0" dy="4.700">5?</tspan></text></g>
<g id="d14" transform="translate(1564 699)"><use href="#par"/><text class="w" y="-5.800"><tspan x="0">Listen to 'About</tspan><tspan x="0" dy="4.700">Stage 5 &amp; What to</tspan><tspan x="0" dy="4.700">do' 60S</tspan><tspan x="0" dy="4.700" class="b">Instruction</tspan></text></g>
<g id="d15" transform="translate(1564 737)"><use href="#dia"/><text class="k" y="-1"><tspan x="0">Has UST</tspan><tspan x="0" dy="4.700">finished?</tspan></text></g>
<text class="t" x="1496" y="759"><tspan x="1496">Explore Stage 5</tspan><tspan x="1496" dy="4.700">Select Info Panels</tspan></text>
<text class="t" x="1577" y="759"><tspan x="1577">Unhide Return to Exterior Button</tspan><tspan x="1577" dy="4.700">Return to Exterior Button </tspan><tspan class="b">Text Instruction</tspan></text>
<g id="d16" transform="translate(1564 781)"><use href="#dia"/><text class="k" y="-1"><tspan x="0">Are you in the</tspan><tspan x="0" dy="4.700">exterior?</tspan></text></g>
<text class="t" x="1577" y="804"><tspan x="1577">Unhide Return to Lobby Button</tspan><tspan x="1577" dy="4.700">Return to Lobby Button </tspan><tspan class="b">Text Instruction</tspan></text>
<g id="d17" transform="translate(1564 825)"><use href="#dia"/><text class="k" y="1.200">Finished?</text></g>
<g id="d18"><circle class="c" cx="1564" cy="882" r="23"/><text class="m" x="1564" y="883">Main Menu</text><g fill="#8f8f8f"><use href="#ih" x="1564" y="860"/><use href="#ix" x="1542" y="880"/></g></g>

<g id="e1" transform="translate(946.500 1027.500)"><use href="#par"/><text class="w" y="-1"><tspan x="0">Watch credits</tspan><tspan x="0" dy="4.700">video</tspan></text></g>
<g id="e2"><rect x="921" y="1051" width="51" height="15" rx="7.5" fill="#f97d16"/><text class="w" x="946.500" y="1059.700">Exit IF/ADVITIVE VR</text></g>
</g>
</svg>
